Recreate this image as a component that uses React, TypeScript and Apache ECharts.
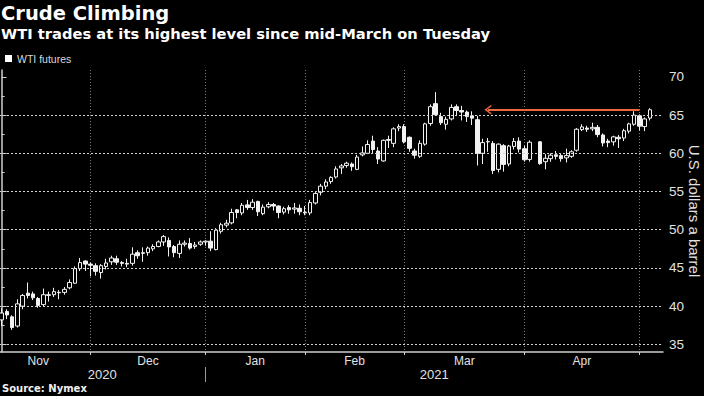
import React, { useEffect, useRef } from "react";
import * as echarts from "echarts";

// Trading sessions shown (plus two empty sessions of padding on the right)
const dates = [
  "2020-11-04", "2020-11-05", "2020-11-06", "2020-11-09", "2020-11-10", "2020-11-11", "2020-11-12", "2020-11-13",
  "2020-11-16", "2020-11-17", "2020-11-18", "2020-11-19", "2020-11-20", "2020-11-23", "2020-11-24", "2020-11-25",
  "2020-11-27", "2020-11-30",
  "2020-12-01", "2020-12-02", "2020-12-03", "2020-12-04", "2020-12-07", "2020-12-08", "2020-12-09", "2020-12-10",
  "2020-12-11", "2020-12-14", "2020-12-15", "2020-12-16", "2020-12-17", "2020-12-18", "2020-12-21", "2020-12-22",
  "2020-12-23", "2020-12-24", "2020-12-28", "2020-12-29", "2020-12-30", "2020-12-31",
  "2021-01-04", "2021-01-05", "2021-01-06", "2021-01-07", "2021-01-08", "2021-01-11", "2021-01-12", "2021-01-13",
  "2021-01-14", "2021-01-15", "2021-01-19", "2021-01-20", "2021-01-21", "2021-01-22", "2021-01-25", "2021-01-26",
  "2021-01-27", "2021-01-28", "2021-01-29",
  "2021-02-01", "2021-02-02", "2021-02-03", "2021-02-04", "2021-02-05", "2021-02-08", "2021-02-09", "2021-02-10",
  "2021-02-11", "2021-02-12", "2021-02-16", "2021-02-17", "2021-02-18", "2021-02-19", "2021-02-22", "2021-02-23",
  "2021-02-24", "2021-02-25", "2021-02-26",
  "2021-03-01", "2021-03-02", "2021-03-03", "2021-03-04", "2021-03-05", "2021-03-08", "2021-03-09", "2021-03-10",
  "2021-03-11", "2021-03-12", "2021-03-15", "2021-03-16", "2021-03-17", "2021-03-18", "2021-03-19", "2021-03-22",
  "2021-03-23", "2021-03-24", "2021-03-25", "2021-03-26", "2021-03-29", "2021-03-30", "2021-03-31",
  "2021-04-01", "2021-04-02", "2021-04-05", "2021-04-06", "2021-04-07", "2021-04-08", "2021-04-09", "2021-04-12",
  "2021-04-13", "2021-04-14", "2021-04-15", "2021-04-16", "2021-04-19", "2021-04-20", "2021-04-21", "2021-04-22",
  "2021-04-23", "2021-04-26", "2021-04-27", "2021-04-28", "2021-04-29", "2021-04-30",
  "2021-05-03", "2021-05-04", "2021-05-05", "2021-05-06",
];

const opens = [
  38.2, 39.3, 38.6, 37.4, 40.0, 41.7, 41.6, 41.0, 40.2, 41.4, 41.5, 41.8, 41.8, 42.4, 43.0, 44.9, 45.9, 45.5,
  45.3, 44.4, 45.2, 45.8, 46.2, 45.7, 45.6, 45.6, 47.0, 46.9, 47.0, 47.5, 47.8, 48.4, 48.6, 47.8, 46.9, 48.1, 48.2, 47.8, 48.1, 48.4,
  48.5, 47.4, 49.8, 50.6, 50.9, 52.6, 52.2, 53.25, 52.9, 53.7, 52.1, 53.0, 53.3, 53.1, 52.3, 52.9, 52.7, 52.8, 52.3,
  52.2, 53.5, 54.9, 55.7, 56.3, 56.9, 58.1, 58.4, 58.6, 57.9, 59.8, 60.0, 61.6, 60.3, 59.0, 61.8, 61.3, 63.3, 63.5,
  62.1, 60.3, 59.6, 61.2, 63.9, 66.5, 64.8, 63.8, 64.5, 66.1, 65.6, 65.4, 64.9, 64.4, 60.0, 61.5, 61.3, 57.9, 61.0, 58.6, 60.9, 61.6, 60.6,
  59.2, null, 61.5, 58.9, 59.3, 59.8, 59.7, 59.4, 59.6, 60.4, 63.1, 63.3, 63.2, 63.4, 62.4, 61.6, 61.5, 62.1, 62.0, 62.9, 63.8, 64.9,
  63.5, 64.6, null, null,
];
const closes = [
  39.1, 38.85, 37.2, 40.3, 41.4, 41.4, 41.1, 40.1, 41.5, 41.5, 41.9, 41.75, 42.2, 43.1, 44.9, 45.7, 45.5, 45.35,
  44.55, 45.3, 45.65, 46.3, 45.75, 45.6, 45.5, 46.8, 46.6, 47.0, 47.6, 47.8, 48.4, 49.1, 47.75, 47.0, 48.1, 48.25, 47.6, 48.0, 48.4, 48.5,
  47.6, 49.95, 50.65, 50.85, 52.25, 52.25, 53.2, 52.9, 53.6, 52.35, 52.95, 53.3, 53.1, 52.25, 52.75, 52.6, 52.85, 52.35, 52.2,
  53.55, 54.75, 55.7, 56.25, 56.85, 57.95, 58.35, 58.7, 58.25, 59.5, 60.05, 61.15, 60.5, 59.25, 61.7, 61.7, 63.2, 63.5, 61.5,
  60.65, 59.75, 61.3, 63.85, 66.1, 65.05, 64.0, 64.45, 66.0, 65.6, 65.4, 64.8, 64.6, 60.0, 61.4, 61.55, 57.75, 61.2, 58.55, 60.95, 61.55, 60.55, 59.15,
  61.45, null, 58.65, 59.35, 59.75, 59.6, 59.3, 59.7, 60.2, 63.15, 63.45, 63.15, 63.4, 62.45, 61.35, 61.4, 62.15, 61.9, 62.95, 63.85, 65.0, 63.55,
  64.5, 65.7, null, null,
];
const lows = [
  37.4, 38.3, 36.9, 37.2, 39.6, 41.0, 40.8, 39.8, 40.0, 40.6, 41.2, 40.9, 41.5, 42.2, 42.9, 44.6, 44.6, 43.9,
  44.0, 43.6, 44.8, 45.4, 45.4, 45.2, 45.1, 45.3, 46.2, 45.8, 46.6, 47.2, 47.7, 47.9, 46.5, 46.4, 46.3, 47.8, 47.4, 47.5, 47.9, 47.9,
  47.2, 47.3, 49.5, 50.3, 50.7, 51.5, 51.9, 52.6, 52.6, 51.8, 51.9, 52.8, 52.5, 51.5, 52.0, 52.1, 52.1, 51.9, 51.9,
  51.9, 53.3, 54.5, 55.3, 56.0, 56.7, 57.3, 58.1, 57.7, 57.8, 59.6, 59.9, 60.0, 58.6, 58.9, 60.7, 60.8, 62.9, 61.3,
  60.2, 59.3, 59.4, 61.0, 63.6, 64.9, 63.7, 63.1, 64.3, 64.9, 64.3, 64.1, 63.7, 58.4, 58.6, 60.2, 57.3, 57.5, 57.6, 58.3, 60.5, 60.1, 58.9,
  58.9, null, 58.5, 57.9, 58.9, 59.2, 58.9, 58.8, 59.4, 60.2, 62.9, 62.8, 62.9, 62.1, 60.9, 60.8, 61.0, 60.7, 61.6, 62.6, 63.6, 63.0,
  62.9, 64.3, null, null,
];
const highs = [
  39.7, 39.6, 38.8, 40.9, 41.6, 43.1, 41.9, 41.2, 42.3, 41.9, 42.4, 42.1, 42.5, 43.5, 45.2, 46.3, 46.0, 45.7,
  45.6, 45.5, 46.2, 46.6, 46.6, 45.9, 46.2, 47.7, 47.3, 47.7, 47.8, 48.1, 48.6, 49.3, 49.0, 48.0, 48.6, 48.6, 48.9, 48.4, 48.6, 48.6,
  49.8, 50.2, 50.9, 51.3, 52.75, 52.7, 53.5, 53.9, 54.0, 53.8, 53.3, 53.6, 53.5, 53.2, 53.0, 53.2, 53.5, 53.3, 53.1,
  53.9, 55.0, 56.0, 56.6, 57.0, 58.3, 58.6, 58.9, 58.8, 59.8, 60.9, 61.7, 62.3, 60.8, 61.8, 62.3, 63.4, 63.8, 63.8,
  62.2, 60.6, 61.7, 64.0, 66.4, 68.0, 65.3, 64.8, 66.4, 66.4, 66.2, 65.6, 65.5, 64.9, 61.9, 62.0, 61.6, 61.3, 61.2, 61.1, 62.0, 62.1, 61.0,
  61.7, null, 61.6, 59.9, 60.0, 60.3, 59.9, 60.6, 60.4, 63.3, 63.8, 63.6, 64.0, 63.7, 62.6, 61.9, 62.3, 62.4, 63.2, 64.0, 65.5, 65.1,
  64.7, 65.9, null, null,
];

const yMajorTicks = [35, 40, 45, 50, 55, 60, 65, 70];
const yMinorTicks = [37.5, 42.5, 47.5, 52.5, 57.5, 62.5, 67.5];
const yGridValues = [35, 40, 45, 50, 55, 60, 65];
const monthNames = ["Nov", "Dec", "Jan", "Feb", "Mar", "Apr"];
const firstMonthSessions = 20; // sessions in Nov 2020 (the first month is only partly shown)
const yearNames = ["2020", "2021"];
const arrowLevel = 65.7;
const arrowFromDate = "2021-04-30";
const arrowToDate = "2021-03-22";

const n = dates.length;
const monthEnds: number[] = [];
for (let i = 0; i < n - 1; i++) {
  if (dates[i].slice(0, 7) !== dates[i + 1].slice(0, 7)) monthEnds.push(i);
}
const monthMids = monthEnds.map((e, k) => (k === 0 ? e - firstMonthSessions / 2 : (monthEnds[k - 1] + e) / 2));
let yearBreak = 0;
for (let i = 0; i < n - 1; i++) if (dates[i].slice(0, 4) !== dates[i + 1].slice(0, 4)) yearBreak = i;
const yearMids = [(-0.5 + yearBreak) / 2, (yearBreak + n - 0.5) / 2];

const ohlc = dates.map((_, i) =>
  opens[i] == null ? "-" : [opens[i], closes[i], lows[i], highs[i]]
);

const chevron = "path://M0,10 L10,0 L20,10 L16.5,10 L10,3.5 L3.5,10 Z";

const LABEL = "#e2e2e2";
const AXIS = "#cfcfcf";
const CANDLE = "#f2f2f2";
const Y_MIN = 34;
const Y_MAX = 70.9;

export default function App() {
  const ref = useRef<HTMLDivElement>(null);
  useEffect(() => {
    if (!ref.current) return;
    const chart = echarts.init(ref.current, null, { renderer: "svg" });
    const findLabel = (vals: number[], names: string[]) => (v: number) => {
      const k = vals.findIndex((m) => Math.abs(m - v) < 1e-6);
      return k >= 0 ? names[k] : "";
    };
    chart.setOption({
      animation: false,
      backgroundColor: "#000",
      title: [
        {
          text: "Crude Climbing",
          left: 1,
          top: 3,
          padding: 0,
          textStyle: { color: "#fff", fontSize: 19.5, fontWeight: "bold", fontFamily: "DejaVu Sans" },
        },
        {
          text: "WTI trades at its highest level since mid-March on Tuesday",
          left: 1,
          top: 26,
          padding: 0,
          textStyle: { color: "#fff", fontSize: 14.7, fontWeight: "bold", fontFamily: "DejaVu Sans" },
        },
        {
          text: "Source: Nymex",
          left: 2,
          top: 383,
          padding: 0,
          textStyle: { color: "#f0f0f0", fontSize: 10, fontWeight: "bold", fontFamily: "DejaVu Sans" },
        },
      ],
      legend: {
        data: [{ name: "WTI futures", icon: "rect", itemStyle: { color: "#fff", borderWidth: 0 } }],
        left: 5,
        top: 53,
        padding: 0,
        itemWidth: 7,
        itemHeight: 7,
        textStyle: { color: "#d8d8d8", fontSize: 10.5, fontFamily: "Liberation Sans" },
      },
      grid: { left: -1, right: 41, top: 70, bottom: 44, containLabel: false, outerBoundsMode: "none" },
      xAxis: [
        {
          type: "category",
          data: dates,
          boundaryGap: true,
          axisLine: { onZero: false, lineStyle: { color: AXIS, width: 1.5 } },
          axisTick: {
            show: true,
            alignWithLabel: true,
            interval: (i: number) => monthEnds.includes(i),
            length: 3,
            lineStyle: { color: AXIS },
          },
          axisLabel: { show: false },
          splitLine: { show: false },
        },
        {
          type: "value",
          position: "bottom",
          min: -0.5,
          max: n - 0.5,
          axisLine: { show: false },
          axisTick: { show: false },
          splitLine: { show: false },
          axisLabel: {
            customValues: monthMids,
            formatter: findLabel(monthMids, monthNames),
            color: LABEL,
            fontSize: 12,
            fontFamily: "Liberation Sans",
            margin: 3,
          },
        },
        {
          type: "value",
          position: "bottom",
          offset: 15,
          min: -0.5,
          max: n - 0.5,
          axisLine: { show: false },
          axisTick: { show: true, customValues: [yearBreak], length: 15, lineStyle: { color: "#9a9a9a" } },
          splitLine: { show: false },
          axisLabel: {
            customValues: yearMids,
            formatter: findLabel(yearMids, yearNames),
            color: LABEL,
            fontSize: 13,
            fontFamily: "Liberation Sans",
            margin: 1,
          },
        },
        {
          // vertical gridlines at the last session of each month
          type: "value",
          position: "top",
          min: -0.5,
          max: n - 0.5,
          axisLine: { show: false },
          axisTick: { show: false, customValues: monthEnds },
          axisLabel: { show: false, customValues: monthEnds },
          splitLine: { show: true, lineStyle: { color: "#7a7a7a", type: [1, 2], width: 1 } },
        },
      ],
      yAxis: [
        {
          type: "value",
          position: "right",
          min: Y_MIN,
          max: Y_MAX,
          axisLine: { show: true, lineStyle: { color: AXIS, width: 1.5 } },
          axisTick: { show: true, customValues: yMajorTicks, length: 5, lineStyle: { color: AXIS } },
          axisLabel: {
            customValues: yMajorTicks,
            color: LABEL,
            fontSize: 13.5,
            fontFamily: "Liberation Sans",
            margin: 6,
          },
          splitLine: { show: false },
          name: "U.S. dollars a barrel",
          nameLocation: "middle",
          nameRotate: -90,
          nameGap: 24,
          nameMoveOverlap: false,
          nameTextStyle: { color: LABEL, fontSize: 15, fontFamily: "Liberation Sans" },
        },
        {
          type: "value",
          position: "right",
          min: Y_MIN,
          max: Y_MAX,
          axisLine: { show: false },
          axisTick: { show: true, customValues: yMinorTicks, length: 3, lineStyle: { color: AXIS } },
          axisLabel: { show: false },
          splitLine: { show: false },
        },
      ],
      series: [
        {
          // invisible carrier of the horizontal gridlines
          type: "line",
          name: "grid",
          data: closes,
          silent: true,
          z: 1,
          symbol: "none",
          lineStyle: { opacity: 0 },
          markLine: {
            silent: true,
            symbol: "none",
            label: { show: false },
            lineStyle: { color: "#d4d4d4", type: [2, 2], width: 1, opacity: 1 },
            emphasis: { disabled: true },
            data: yGridValues.map((v) => ({ yAxis: v })),
          },
        },
        {
          type: "candlestick",
          name: "WTI futures",
          data: ohlc,
          barWidth: 4,
          z: 3,
          itemStyle: {
            color: "#000",
            color0: CANDLE,
            borderColor: CANDLE,
            borderColor0: CANDLE,
            borderWidth: 1,
          },
          markLine: {
            silent: true,
            symbol: ["none", chevron],
            symbolSize: [10, 7],
            label: { show: false },
            lineStyle: { color: "#e8683f", width: 2, type: "solid" },
            data: [
              [
                { coord: [dates.indexOf(arrowFromDate), arrowLevel] },
                { coord: [dates.indexOf(arrowToDate), arrowLevel] },
              ],
            ],
          },
        },
      ],
    });
    return () => chart.dispose();
  }, []);
  return (
    <div
      ref={ref}
      style={{ position: "fixed", left: 0, top: 0, width: 704, height: 396, background: "#000" }}
    />
  );
}
